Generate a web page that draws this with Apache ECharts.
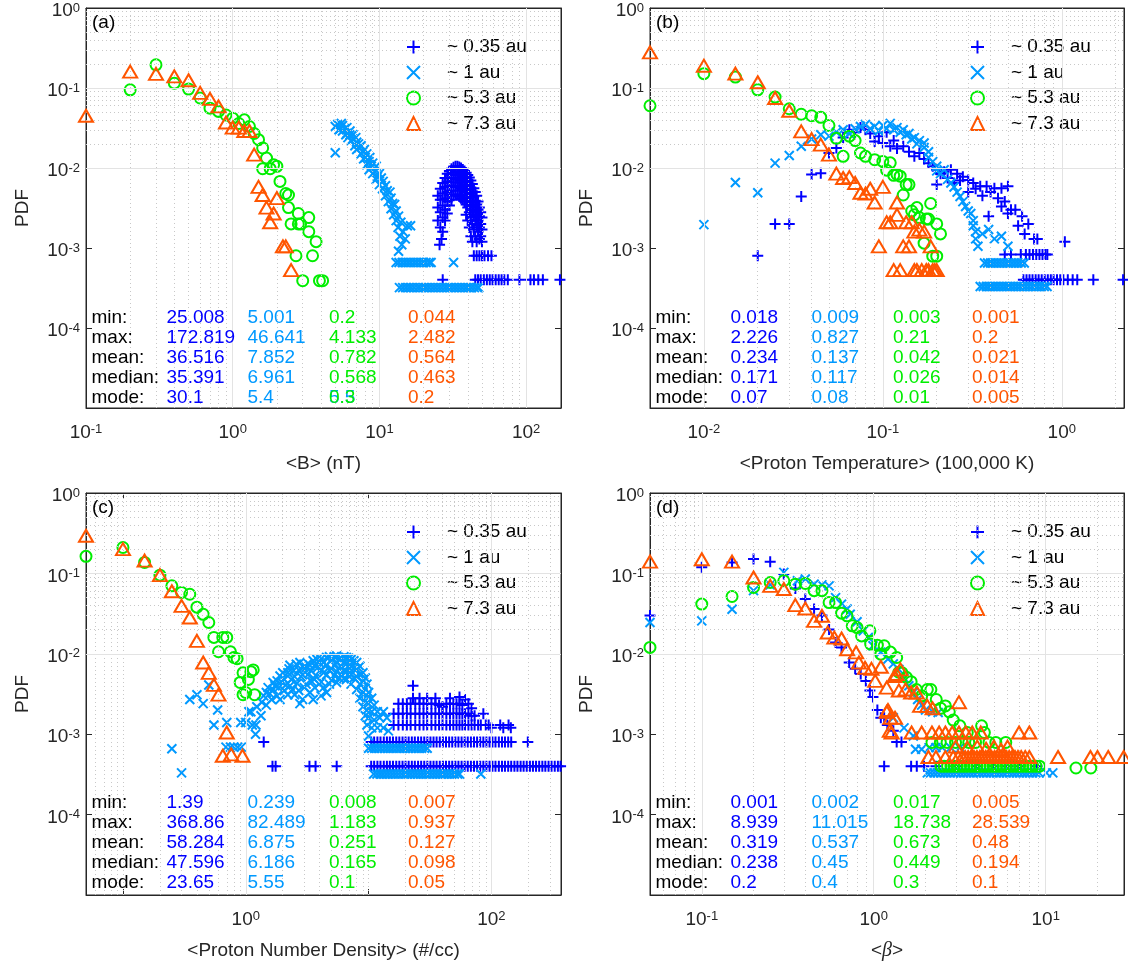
<!DOCTYPE html>
<html><head><meta charset="utf-8">
<script src="https://cdn.jsdelivr.net/npm/echarts@6/dist/echarts.min.js"></script>
<style>html,body{margin:0;padding:0;background:#fff}#c{width:1128px;height:968px}</style>
</head><body><div id="c"></div>
<script>
// ---------------- DATA ----------------
const seriesNames = ['~ 0.35 au', '~ 1 au', '~ 5.3 au', '~ 7.3 au'];
const statLabels = ['min:', 'max:', 'mean:', 'median:', 'mode:'];

// panel (a) <B> (nT)
const a_b035 = [[25,0.0045],[25,0.0032],[25,0.0022],[25.7,0.0011],[26,0.0055],[26,0.004],[26,0.0028],[26,0.0018],[26.5,0.0013],[27,0.0065],[27,0.0048],[27,0.0034],[27,0.0024],[27,0.0016],[28,0.0075],[28,0.0058],[28,0.0042],[28,0.003],[28,0.0022],[29,0.0085],[29,0.0068],[29,0.005],[29,0.0038],[29,0.0027],[30,0.0092],[30,0.0075],[30,0.006],[30,0.0046],[30,0.0034],[31,0.0098],[31,0.0082],[31,0.0066],[31,0.0052],[31,0.004],[32,0.0102],[32,0.0088],[32,0.0072],[32,0.0058],[32,0.0045],[33,0.0105],[33,0.009],[33,0.0075],[33,0.006],[33,0.0047],[34,0.0105],[34,0.009],[34,0.0074],[34,0.006],[34,0.0046],[35,0.0103],[35,0.0087],[35,0.0072],[35,0.0058],[35,0.0044],[36,0.01],[36,0.0085],[36,0.007],[36,0.0056],[36,0.0042],[37,0.0096],[37,0.008],[37,0.0066],[37,0.0053],[37,0.004],[38,0.0092],[38,0.0076],[38,0.0062],[38,0.005],[38,0.0038],[39,0.0087],[39,0.0072],[39,0.0058],[39,0.0046],[39,0.0035],[39,0.0026],[40,0.0082],[40,0.0067],[40,0.0054],[40,0.0042],[40,0.0032],[40,0.0022],[41,0.0076],[41,0.006],[41,0.0048],[41,0.0037],[41,0.0028],[41,0.0018],[42,0.007],[42,0.0055],[42,0.0043],[42,0.0033],[42,0.0024],[42,0.0014],[43,0.0063],[43,0.005],[43,0.0038],[43,0.0029],[43,0.002],[43,0.0012],[44,0.0056],[44,0.0044],[44,0.0034],[44,0.0025],[44,0.0017],[45,0.005],[45,0.0039],[45,0.003],[45,0.0022],[45,0.0014],[46,0.0045],[46,0.0035],[46,0.0026],[46,0.0019],[46,0.0012],[47,0.0038],[47,0.003],[47,0.0022],[47,0.0016],[48,0.0032],[48,0.0025],[48,0.0018],[48,0.0013],[49,0.0028],[49,0.002],[49,0.0014],[50,0.0024],[50,0.0017],[50,0.0012],
  [44,0.0008],[46,0.0008],[48,0.0008],[50,0.0008],[52,0.0008],[55,0.0008],[58,0.0008],
  [27,0.0004],[45,0.0004],[47,0.0004],[49,0.0004],[51.5,0.0004],[54,0.0004],[56.5,0.0004],[59,0.0004],[62,0.0004],[65,0.0004],[68,0.0004],[71,0.0004],[75,0.0004],[90,0.0004],[107,0.0004],[113,0.0004],[121,0.0004],[130,0.0004],[170,0.0004]];
const a_b1 = [[5.0,0.0155],[5.0,0.033],[5.2,0.035],[5.3,0.03],[5.4,0.031],[5.5,0.036],[5.6,0.034],[5.6,0.029],[5.8,0.031],[5.9,0.026],[6.0,0.027],[6.0,0.032],[6.1,0.024],[6.3,0.026],[6.3,0.029],[6.4,0.022],[6.6,0.023],[6.6,0.026],[6.8,0.019],[6.9,0.024],[7.0,0.021],[7.0,0.017],[7.2,0.02],[7.3,0.018],[7.5,0.015],[7.5,0.019],[7.7,0.016],[7.8,0.013],[7.9,0.017],[8.0,0.0135],[8.2,0.011],[8.2,0.015],[8.5,0.012],[8.5,0.0095],[8.6,0.0135],[8.8,0.0105],[9.0,0.0085],[9.0,0.0115],[9.3,0.009],[9.5,0.0072],[9.5,0.0105],[9.7,0.0078],[10.0,0.0062],[10.0,0.0085],[10.3,0.0075],[10.5,0.0055],[10.6,0.0068],[11.0,0.0045],[11.0,0.006],[11.3,0.0052],[11.5,0.0038],[11.8,0.005],[12.0,0.0031],[12.0,0.0042],[12.3,0.0036],[12.5,0.0026],[12.7,0.0035],[13.0,0.0022],[13.0,0.0029],[13.4,0.0018],[13.5,0.0025],[13.8,0.0014],[14.0,0.0021],[14.2,0.0011],[14.5,0.0016],[15.0,0.0013],[15.5,0.0019],[16.3,0.0019],[13.5,0.00091],
  [13.0,0.00066],[13.6,0.00066],[14.3,0.00066],[15.0,0.00066],[15.7,0.00066],[16.4,0.00066],[17.2,0.00066],[18.0,0.00066],[18.9,0.00066],[19.8,0.00066],[20.8,0.00066],[21.8,0.00066],[22.5,0.00066],[32.0,0.00066],
  [13.7,0.00032],[14.4,0.00032],[15.1,0.00032],[15.8,0.00032],[16.5,0.00032],[17.3,0.00032],[18.2,0.00032],[19,0.00032],[20,0.00032],[20.9,0.00032],[21.9,0.00032],[23,0.00032],[24.1,0.00032],[25.3,0.00032],[26.5,0.00032],[27.8,0.00032],[29.1,0.00032],[30.5,0.00032],[32,0.00032],[33.5,0.00032],[35.1,0.00032],[36.8,0.00032],[38.6,0.00032],[40.4,0.00032],[42.4,0.00032],[44.4,0.00032],[46.5,0.00032],[47.5,0.00032]];
const a_g53 = [[0.2,0.095],[0.3,0.195],[0.4,0.115],[0.5,0.097],[0.6,0.075],[0.7,0.056],[0.8,0.051],[0.9,0.046],[1.0,0.042],[1.1,0.036],[1.2,0.04],[1.3,0.033],[1.4,0.027],[1.5,0.0226],[1.6,0.0178],[1.7,0.0133],[1.6,0.0098],[1.8,0.0098],[1.9,0.011],[2.0,0.0105],[2.1,0.0068],[2.3,0.0048],[2.4,0.0046],[2.4,0.0032],[2.5,0.002],[2.7,0.0008],[2.8,0.0027],[2.8,0.002],[2.9,0.002],[3.0,0.00039],[3.3,0.0024],[3.3,0.0016],[3.5,0.0008],[3.7,0.0012],[3.9,0.00039],[4.1,0.00039]];
const a_o73 = [[0.1,0.045],[0.2,0.16],[0.3,0.15],[0.4,0.14],[0.5,0.125],[0.6,0.087],[0.7,0.073],[0.8,0.059],[0.9,0.037],[1.0,0.032],[1.1,0.032],[1.2,0.029],[1.3,0.029],[1.4,0.0147],[1.5,0.0058],[1.6,0.0046],[1.7,0.0032],[1.8,0.0021],[1.9,0.0027],[2.0,0.0042],[2.2,0.00105],[2.3,0.00105],[2.5,0.00053]];
const a_stats = [['25.008','172.819','36.516','35.391','30.1'],['5.001','46.641','7.852','6.961','5.4'],['0.2','4.133','0.782','0.568','0.3'],['0.044','2.482','0.564','0.463','0.2']];

// panel (b) <Proton Temperature> (100,000 K)
const b_b035 = [[0.02,0.0008],[0.025,0.002],[0.03,0.002],[0.035,0.0044],[0.04,0.0083],[0.045,0.0086],[0.05,0.0154],[0.055,0.0178],[0.06,0.024],[0.065,0.03],[0.07,0.028],[0.075,0.032],[0.08,0.03],[0.085,0.027],[0.09,0.0215],[0.095,0.025],[0.1,0.0205],[0.105,0.028],[0.11,0.0187],[0.115,0.022],[0.12,0.0175],[0.13,0.0187],[0.14,0.016],[0.15,0.014],[0.16,0.0154],[0.17,0.013],[0.18,0.0115],[0.19,0.0105],[0.2,0.0095],[0.2,0.0062],[0.21,0.0085],[0.22,0.009],[0.23,0.0075],[0.24,0.0095],[0.25,0.0065],[0.26,0.0085],[0.27,0.007],[0.28,0.0078],[0.3,0.0071],[0.3,0.005],[0.32,0.0065],[0.33,0.0055],[0.35,0.0059],[0.36,0.0045],[0.38,0.0059],[0.39,0.0025],[0.4,0.005],[0.42,0.0056],[0.44,0.0042],[0.46,0.0033],[0.46,0.0056],[0.48,0.0038],[0.5,0.0059],[0.5,0.0027],[0.52,0.003],[0.55,0.003],[0.57,0.0019],[0.6,0.0025],[0.62,0.0015],[0.65,0.002],[0.7,0.0013],[0.73,0.0013],[1.04,0.0012],
  [0.48,0.00083],[0.52,0.00083],[0.59,0.00083],[0.63,0.00083],[0.66,0.00083],[0.69,0.00083],[0.72,0.00083],[0.75,0.00083],[0.78,0.00083],[0.81,0.00083],[0.83,0.00083],
  [0.61,0.0004],[0.635,0.0004],[0.66,0.0004],[0.686,0.0004],[0.714,0.0004],[0.742,0.0004],[0.772,0.0004],[0.803,0.0004],[0.835,0.0004],[0.868,0.0004],[0.9,0.0004],[0.94,0.0004],[0.98,0.0004],[1.02,0.0004],[1.08,0.0004],[1.15,0.0004],[1.22,0.0004],[1.5,0.0004],[2.2,0.0004]];
const b_b1 = [[0.01,0.00196],[0.015,0.0066],[0.02,0.0049],[0.025,0.0115],[0.03,0.0143],[0.035,0.0187],[0.04,0.023],[0.045,0.026],[0.05,0.025],[0.055,0.028],[0.06,0.03],[0.065,0.027],[0.07,0.031],[0.075,0.033],[0.08,0.035],[0.085,0.031],[0.09,0.033],[0.095,0.029],[0.1,0.034],[0.105,0.031],[0.11,0.036],[0.115,0.03],[0.12,0.032],[0.125,0.028],[0.13,0.03],[0.135,0.026],[0.14,0.027],[0.145,0.023],[0.15,0.024],[0.155,0.02],[0.16,0.022],[0.17,0.018],[0.17,0.0205],[0.18,0.016],[0.18,0.0135],[0.19,0.012],[0.2,0.0105],[0.2,0.0092],[0.21,0.0085],[0.22,0.0095],[0.23,0.0072],[0.24,0.0065],[0.25,0.0058],[0.26,0.005],[0.27,0.0044],[0.28,0.0038],[0.29,0.0033],[0.3,0.0029],[0.31,0.0027],[0.32,0.0022],[0.32,0.0019],[0.33,0.0016],[0.33,0.0013],[0.34,0.00105],[0.36,0.0015],[0.39,0.0017],[0.42,0.0013],[0.46,0.0014],[0.5,0.00105],
  [0.37,0.00065],[0.385,0.00065],[0.4,0.00065],[0.416,0.00065],[0.433,0.00065],[0.45,0.00065],[0.468,0.00065],[0.487,0.00065],[0.506,0.00065],[0.527,0.00065],[0.548,0.00065],[0.57,0.00065],[0.593,0.00065],[0.617,0.00065],
  [0.35,0.00033],[0.364,0.00033],[0.379,0.00033],[0.394,0.00033],[0.41,0.00033],[0.426,0.00033],[0.443,0.00033],[0.461,0.00033],[0.479,0.00033],[0.498,0.00033],[0.518,0.00033],[0.539,0.00033],[0.561,0.00033],[0.583,0.00033],[0.607,0.00033],[0.631,0.00033],[0.656,0.00033],[0.682,0.00033],[0.71,0.00033],[0.738,0.00033],[0.768,0.00033],[0.798,0.00033],[0.827,0.00033]];
const b_g53 = [[0.005,0.06],[0.01,0.151],[0.015,0.137],[0.02,0.095],[0.025,0.077],[0.03,0.055],[0.035,0.047],[0.04,0.045],[0.045,0.043],[0.05,0.034],[0.055,0.0235],[0.06,0.014],[0.065,0.025],[0.07,0.022],[0.075,0.0154],[0.08,0.014],[0.09,0.0127],[0.1,0.0121],[0.105,0.0094],[0.11,0.0116],[0.115,0.0081],[0.12,0.0083],[0.125,0.0079],[0.13,0.0046],[0.135,0.0062],[0.14,0.0062],[0.145,0.0029],[0.15,0.0026],[0.155,0.0032],[0.16,0.0024],[0.17,0.00115],[0.175,0.0023],[0.18,0.0023],[0.185,0.0036],[0.19,0.00079],[0.2,0.00079],[0.2,0.002],[0.21,0.0015]];
const b_o73 = [[0.005,0.279],[0.01,0.19],[0.015,0.151],[0.02,0.118],[0.025,0.075],[0.03,0.052],[0.035,0.0287],[0.04,0.023],[0.045,0.0196],[0.05,0.0147],[0.055,0.0085],[0.06,0.0075],[0.065,0.0077],[0.07,0.0065],[0.075,0.0049],[0.08,0.0048],[0.085,0.0055],[0.09,0.0037],[0.095,0.00105],[0.1,0.0058],[0.105,0.0021],[0.11,0.0021],[0.115,0.00053],[0.12,0.0037],[0.12,0.0026],[0.125,0.00053],[0.13,0.00105],[0.135,0.0021],[0.14,0.00105],[0.145,0.0021],[0.15,0.0016],[0.15,0.00053],[0.155,0.00053],[0.16,0.0017],[0.165,0.00053],[0.17,0.0016],[0.175,0.00053],[0.18,0.00053],[0.185,0.00105],[0.19,0.00053],[0.195,0.00053],[0.2,0.00053]];
const b_stats = [['0.018','2.226','0.234','0.171','0.07'],['0.009','0.827','0.137','0.117','0.08'],['0.003','0.21','0.042','0.026','0.01'],['0.001','0.2','0.021','0.014','0.005']];

// panel (c) <Proton Number Density> (#/cc)
const c_b035 = [[1.4,0.0008],[1.65,0.0004],[1.75,0.0004],[3.3,0.0004],[3.7,0.0004],[5.5,0.0004],
  [10.5,0.0004],[11.1,0.0004],[11.8,0.0004],[12.5,0.0004],[13.3,0.0004],[14.1,0.0004],[14.9,0.0004],[15.8,0.0004],[16.8,0.0004],[17.8,0.0004],[18.9,0.0004],[20,0.0004],[21.2,0.0004],[22.5,0.0004],[23.8,0.0004],[25.3,0.0004],[26.8,0.0004],[28.4,0.0004],[30.1,0.0004],[31.9,0.0004],[33.8,0.0004],[35.8,0.0004],[38,0.0004],[40.3,0.0004],[42.7,0.0004],[45.3,0.0004],[48,0.0004],[50.9,0.0004],[53.9,0.0004],[57.2,0.0004],[60.6,0.0004],[64.2,0.0004],[68.1,0.0004],[72.2,0.0004],[76.5,0.0004],[81.1,0.0004],[86,0.0004],[91.1,0.0004],[96.6,0.0004],[102,0.0004],[108,0.0004],[115,0.0004],[122,0.0004],[129,0.0004],[137,0.0004],[145,0.0004],[154,0.0004],[163,0.0004],[173,0.0004],[183,0.0004],[194,0.0004],[206,0.0004],[218,0.0004],[231,0.0004],[245,0.0004],[260,0.0004],[275,0.0004],[292,0.0004],[309,0.0004],[328,0.0004],[348,0.0004],[366,0.0004],
  [10.5,0.0008],[11.1,0.0008],[11.8,0.0008],[12.5,0.0008],[13.3,0.0008],[14.1,0.0008],[14.9,0.0008],[15.8,0.0008],[16.8,0.0008],[17.8,0.0008],[18.9,0.0008],[20,0.0008],[21.2,0.0008],[22.5,0.0008],[23.8,0.0008],[25.3,0.0008],[26.8,0.0008],[28.4,0.0008],[30.1,0.0008],[31.9,0.0008],[33.8,0.0008],[35.8,0.0008],[38,0.0008],[40.3,0.0008],[42.7,0.0008],[45.3,0.0008],[48,0.0008],[50.9,0.0008],[53.9,0.0008],[57.2,0.0008],[60.6,0.0008],[64.2,0.0008],[68.1,0.0008],[72.2,0.0008],[76.5,0.0008],[81.1,0.0008],[86,0.0008],[91.1,0.0008],[96.6,0.0008],[102,0.0008],[108,0.0008],[115,0.0008],[122,0.0008],[129,0.0008],[137,0.0008],[145,0.0008],[198,0.0008],
  [16,0.0013],[16,0.0018],[17.5,0.0013],[17.5,0.0018],[17.5,0.0024],[19,0.0013],[19,0.0018],[19,0.0024],[20.5,0.0013],[20.5,0.0018],[20.5,0.0024],[22,0.0013],[22,0.0018],[22,0.0024],[23,0.004],[23,0.0028],[24,0.0013],[24,0.0018],[24,0.0024],[26,0.0013],[26,0.0018],[26,0.0024],[26,0.0028],[28,0.0013],[28,0.0018],[28,0.0024],[30,0.0013],[30,0.0018],[30,0.0024],[30,0.0028],[32.5,0.0013],[32.5,0.0018],[32.5,0.0024],[35,0.0013],[35,0.0018],[35,0.0024],[35,0.0028],[37.5,0.0013],[37.5,0.0018],[37.5,0.0023],[40,0.0013],[40,0.0018],[40,0.0022],[43,0.0013],[43,0.0018],[43,0.0024],[46,0.0013],[46,0.0018],[46,0.0024],[46,0.0028],[49,0.0013],[49,0.0018],[49,0.0024],[52,0.0013],[52,0.0018],[52,0.0024],[55,0.0013],[55,0.0018],[55,0.0024],[55,0.0029],[58,0.0013],[58,0.0018],[58,0.0023],[61,0.0013],[61,0.0018],[61,0.0027],[65,0.0013],[65,0.0018],[65,0.0024],[69,0.0013],[69,0.0017],[69,0.0021],[73,0.0013],[73,0.0017],[78,0.0013],[82,0.0013],[86,0.0018],[90,0.0013],[95,0.0013],[100,0.0012],[118,0.0013],[125,0.0012],[138,0.0013],[144,0.0012]];
const c_b1 = [[0.25,0.00066],[0.3,0.00033],[0.35,0.0027],[0.4,0.0031],[0.45,0.0024],[0.5,0.0041],[0.55,0.0013],[0.59,0.002],[0.7,0.0014],[0.69,0.00069],[0.75,0.00069],[0.8,0.00069],[0.86,0.00069],[0.92,0.00069],[0.91,0.0014],[1.0,0.0014],[1.06,0.0019],[1.13,0.0013],[1.2,0.001],[1.21,0.0013],[1.33,0.0017],
  [1.1,0.0019],[1.23,0.0022],[1.35,0.0025],[1.4,0.003],[1.47,0.0033],[1.47,0.0023],[1.52,0.0038],[1.57,0.0032],[1.62,0.0027],[1.67,0.0044],[1.67,0.0036],[1.73,0.004],[1.8,0.0046],[1.8,0.003],[1.85,0.0038],[1.9,0.0053],[1.9,0.0027],[1.95,0.0045],[2.0,0.0058],[2.06,0.0048],[2.06,0.0035],[2.12,0.0041],[2.2,0.0058],[2.2,0.0031],[2.25,0.0065],[2.29,0.0072],[2.29,0.004],[2.35,0.0048],[2.4,0.0036],[2.45,0.0062],[2.5,0.0052],[2.5,0.0031],[2.58,0.0074],[2.62,0.0043],[2.7,0.0063],[2.7,0.0035],[2.76,0.0078],[2.76,0.0024],[2.82,0.0052],[2.9,0.0055],[2.9,0.0027],[2.95,0.0068],[3.0,0.0038],[3.1,0.0068],[3.1,0.0042],[3.2,0.0076],[3.2,0.0055],[3.33,0.0072],[3.33,0.0033],[3.4,0.0062],[3.45,0.0045],[3.54,0.0082],[3.54,0.0027],[3.54,0.005],[3.65,0.0072],[3.65,0.0038],[3.8,0.0066],[3.8,0.0085],[3.8,0.0052],[3.95,0.0078],[3.95,0.0042],[4.1,0.0086],[4.1,0.0045],[4.1,0.003],[4.1,0.0064],[4.3,0.0078],[4.3,0.0058],[4.3,0.0038],[4.55,0.009],[4.55,0.0072],[4.55,0.0055],[4.55,0.0033],[4.8,0.0092],[4.8,0.0063],[4.8,0.0042],[5.0,0.0085],[5.0,0.0065],[5.0,0.0047],[5.25,0.0092],[5.25,0.0072],[5.25,0.0054],[5.5,0.0094],[5.5,0.0078],[5.5,0.006],[5.5,0.0044],[5.75,0.0085],[5.75,0.0066],[5.75,0.005],[6.0,0.0088],[6.0,0.007],[6.0,0.0055],[6.3,0.0092],[6.3,0.0078],[6.3,0.0062],[6.3,0.0049],[6.6,0.009],[6.6,0.0075],[6.6,0.006],[6.6,0.0048],[6.9,0.0088],[6.9,0.0068],[6.9,0.0053],[7.2,0.0085],[7.2,0.007],[7.2,0.0056],[7.2,0.0042],[7.6,0.0082],[7.6,0.0066],[7.6,0.005],[8.0,0.0078],[8.0,0.0064],[8.0,0.0052],[8.0,0.0036],[8.5,0.007],[8.5,0.0055],[8.5,0.0042],[8.5,0.0028],[9.0,0.0058],[9.0,0.0045],[9.0,0.0033],[9.0,0.0022],[9.4,0.005],[9.4,0.0037],[9.4,0.0026],[9.4,0.0017],[9.7,0.0042],[9.7,0.003],[9.7,0.002],[9.7,0.0013],[10.0,0.0033],[10.0,0.0024],[10.0,0.0016],[10.0,0.00095],[10.6,0.0028],[10.6,0.0019],[10.6,0.0012],[11.1,0.0023],[11.1,0.0015],[11.8,0.0019],[11.8,0.0012],[12.3,0.0016],[13.2,0.0019],[13.2,0.0012],[14.1,0.0016],[14.5,0.0011],
  [10,0.00067],[10.6,0.00067],[11.2,0.00067],[11.9,0.00067],[12.6,0.00067],[13.4,0.00067],[14.2,0.00067],[15,0.00067],[15.9,0.00067],[16.9,0.00067],[17.9,0.00067],[19,0.00067],[20.1,0.00067],[21.3,0.00067],[22.6,0.00067],[24,0.00067],[25.4,0.00067],[27,0.00067],[28.6,0.00067],[30,0.00067],
  [11,0.00032],[11.7,0.00032],[12.4,0.00032],[13.1,0.00032],[13.9,0.00032],[14.7,0.00032],[15.6,0.00032],[16.5,0.00032],[17.5,0.00032],[18.6,0.00032],[19.7,0.00032],[20.9,0.00032],[22.1,0.00032],[23.5,0.00032],[24.9,0.00032],[26.4,0.00032],[27.9,0.00032],[29.6,0.00032],[31.4,0.00032],[33.3,0.00032],[35.3,0.00032],[37.4,0.00032],[39.6,0.00032],[42,0.00032],[44.5,0.00032],[47.2,0.00032],[50,0.00032],[53,0.00032],[55,0.00032],[82,0.00032]];
const c_g53 = [[0.05,0.163],[0.1,0.21],[0.15,0.137],[0.2,0.095],[0.25,0.07],[0.3,0.058],[0.35,0.055],[0.4,0.038],[0.45,0.031],[0.5,0.0245],[0.55,0.016],[0.6,0.0106],[0.65,0.016],[0.7,0.016],[0.75,0.0106],[0.8,0.009],[0.85,0.0087],[0.9,0.0044],[0.95,0.0058],[0.95,0.0031],[1.0,0.0033],[1.05,0.0048],[1.1,0.006],[1.15,0.0063],[1.18,0.0031]];
const c_o73 = [[0.05,0.294],[0.1,0.2],[0.15,0.144],[0.2,0.095],[0.25,0.06],[0.3,0.0395],[0.35,0.0283],[0.4,0.0145],[0.45,0.0078],[0.5,0.0058],[0.55,0.0041],[0.6,0.0031],[0.65,0.00054],[0.7,0.00105],[0.76,0.00056],[0.94,0.00054]];
const c_stats = [['1.39','368.86','58.284','47.596','23.65'],['0.239','82.489','6.875','6.186','5.55'],['0.008','1.183','0.251','0.165','0.1'],['0.007','0.937','0.127','0.098','0.05']];

// panel (d) <beta>
const d_b035 = [[0.05,0.03],[0.1,0.119],[0.15,0.137],[0.2,0.151],[0.25,0.14],[0.3,0.098],[0.35,0.065],[0.4,0.048],[0.45,0.036],[0.5,0.03],[0.55,0.02],[0.6,0.0138],[0.65,0.012],[0.72,0.0078],[0.78,0.0065],[0.84,0.0056],[0.9,0.0046],[0.95,0.0035],[0.99,0.0029],[1.05,0.002],[1.1,0.0016],[1.15,0.0016],[1.2,0.0013],[1.3,0.0011],[1.36,0.0008],[1.45,0.0008],[1.15,0.0004],[1.65,0.0004],[1.78,0.0004],[1.96,0.0004],[2.3,0.0004],[3,0.0004],[4,0.0004],[5,0.0004],[6,0.0004],[7,0.0004],[8.9,0.0004]];
const d_b1 = [[0.05,0.0245],[0.1,0.0257],[0.15,0.0359],[0.2,0.061],[0.25,0.072],[0.3,0.103],[0.36,0.081],[0.4,0.085],[0.45,0.0736],[0.5,0.072],[0.55,0.07],[0.6,0.05],[0.65,0.0415],[0.7,0.036],[0.73,0.031],[0.8,0.025],[0.87,0.0193],[0.93,0.016],[0.99,0.0126],[1.1,0.0105],[1.21,0.0086],[1.3,0.0075],[1.4,0.0064],[1.5,0.005],[1.6,0.004],[1.7,0.0033],[1.8,0.0027],[1.9,0.0023],[2.0,0.002],[2.2,0.0019],[2.37,0.00186],[1.3,0.0016],[1.5,0.0012],[1.7,0.00095],[1.75,0.00065],[1.9,0.00065],[2.1,0.00068],[2.3,0.00068],[2.5,0.00068],[2.8,0.00068],[3.17,0.00068],
  [2.05,0.00033],[2.14,0.00033],[2.24,0.00033],[2.34,0.00033],[2.45,0.00033],[2.56,0.00033],[2.67,0.00033],[2.79,0.00033],[2.92,0.00033],[3.05,0.00033],[3.19,0.00033],[3.33,0.00033],[3.48,0.00033],[3.64,0.00033],[3.8,0.00033],[3.97,0.00033],[4.15,0.00033],[4.34,0.00033],[4.53,0.00033],[4.74,0.00033],[4.95,0.00033],[5.17,0.00033],[5.4,0.00033],[5.65,0.00033],[5.9,0.00033],[6.17,0.00033],[6.45,0.00033],[6.74,0.00033],[7.04,0.00033],[7.36,0.00033],[7.69,0.00033],[8.03,0.00033],[8.4,0.00033],[8.77,0.00033],[9.17,0.00033],[10.1,0.00033],[11.0,0.00033]];
const d_g53 = [[0.05,0.012],[0.1,0.0415],[0.15,0.0516],[0.2,0.067],[0.25,0.077],[0.3,0.081],[0.35,0.0735],[0.4,0.075],[0.45,0.061],[0.5,0.061],[0.55,0.0434],[0.6,0.0434],[0.65,0.032],[0.7,0.0297],[0.75,0.0223],[0.8,0.0212],[0.85,0.0167],[0.95,0.0193],[0.96,0.0132],[1.05,0.0128],[1.1,0.0099],[1.15,0.0126],[1.25,0.0105],[1.36,0.009],[1.4,0.0059],[1.46,0.0058],[1.55,0.0051],[1.65,0.0045],[1.77,0.0036],[1.9,0.003],[2.05,0.0036],[2.15,0.0036],[2.31,0.0027],[2.45,0.0021],[2.61,0.00225],[2.75,0.0019],[2.9,0.0015],[3.17,0.00127],[3.5,0.00105],[4.24,0.00127],[4.4,0.00105],
  [2.18,0.00079],[2.44,0.00079],[2.67,0.00079],[2.99,0.00079],[3.27,0.00079],[3.57,0.00079],[3.91,0.00079],[4.68,0.00079],[5.13,0.00079],[5.86,0.00079],
  [2.46,0.0004],[2.57,0.0004],[2.69,0.0004],[2.81,0.0004],[2.93,0.0004],[3.06,0.0004],[3.2,0.0004],[3.34,0.0004],[3.49,0.0004],[3.65,0.0004],[3.81,0.0004],[3.98,0.0004],[4.16,0.0004],[4.35,0.0004],[4.54,0.0004],[4.75,0.0004],[4.96,0.0004],[5.18,0.0004],[5.41,0.0004],[5.66,0.0004],[5.91,0.0004],[6.18,0.0004],[6.45,0.0004],[6.74,0.0004],[7.05,0.0004],[7.36,0.0004],[7.69,0.0004],[8.04,0.0004],[8.4,0.0004],[8.78,0.0004],[9.2,0.0004],[15,0.00038],[18.3,0.00038]];
const d_o73 = [[0.05,0.14],[0.1,0.15],[0.15,0.14],[0.2,0.089],[0.25,0.07],[0.3,0.064],[0.35,0.0403],[0.4,0.0366],[0.45,0.0257],[0.5,0.0297],[0.54,0.0184],[0.59,0.0159],[0.65,0.0155],[0.7,0.0114],[0.79,0.0104],[0.82,0.0078],[0.89,0.0067],[0.97,0.0065],[1.02,0.0046],[1.1,0.0069],[1.19,0.0038],[1.21,0.002],[1.25,0.0016],[1.24,0.0011],[1.32,0.0053],[1.36,0.0056],[1.4,0.0035],[1.43,0.0064],[1.53,0.0036],[1.65,0.0033],[1.78,0.0033],[1.86,0.00225],[2.05,0.00225],[2.2,0.0021],[3.13,0.0025],[1.19,0.0019],[1.33,0.0016],
  [1.27,0.00105],[1.66,0.00105],[1.9,0.00105],[2.18,0.00105],[2.4,0.00105],[2.61,0.00105],[2.86,0.00105],[3.13,0.00105],[3.43,0.00105],[3.74,0.00105],[4.19,0.00105],[7.0,0.00105],[8.03,0.00105],
  [3.0,0.0007],[3.5,0.00068],[4.0,0.0007],[4.5,0.00066],[5.0,0.0007],[5.5,0.00064],[6.0,0.0007],
  [2.08,0.00052],[2.3,0.00052],[2.61,0.00052],[2.9,0.00052],[3.1,0.00052],[3.27,0.00052],[3.4,0.00052],[3.54,0.00052],[3.68,0.00052],[3.83,0.00052],[3.98,0.00052],[4.14,0.00052],[4.3,0.00052],[4.48,0.00052],[4.66,0.00052],[4.84,0.00052],[5.04,0.00052],[5.24,0.00052],[5.45,0.00052],[5.67,0.00052],[5.89,0.00052],[6.13,0.00052],[6.37,0.00052],[6.63,0.00052],[6.9,0.00052],[7.2,0.00052],[7.6,0.00052],[8.03,0.00052],[11.8,0.00052],[18.2,0.00052],[20,0.00052],[23.1,0.00052],[28.4,0.00052]];
const d_stats = [['0.001','8.939','0.319','0.238','0.2'],['0.002','11.015','0.537','0.45','0.4'],['0.017','18.738','0.673','0.449','0.3'],['0.005','28.539','0.48','0.194','0.1']];

// axis limits and labelled decades
const xLimits = [[0.1, 172.819], [0.005, 2.226], [0.05, 368.86], [0.05, 28.539]];
const xLabelExp = [[-1, 0, 1, 2], [-2, -1, 0], [0, 2], [-1, 0, 1]];
const yLimits = [1e-5, 1];
const yLabelExp = [0, -1, -2, -3, -4];
const yMajorExp = [0, -1, -2, -3, -4, -5];
const xNames = ['<B> (nT)', '<Proton Temperature> (100,000 K)', '<Proton Number Density> (#/cc)', '<{i|β}>'];
const tags = ['(a)', '(b)', '(c)', '(d)'];

// ---------------- STYLE / LAYOUT ----------------
const FONT = '"Liberation Sans", Arial, Helvetica, sans-serif';
const colors = ['#0000ff', '#0099ff', '#00ee00', '#ff5500'];
const grids = [
  {left: 86, top: 8, width: 475, height: 400},
  {left: 650, top: 8, width: 474, height: 400},
  {left: 86, top: 493, width: 475, height: 402},
  {left: 650, top: 493, width: 474, height: 402}
];
const panelData = [[a_b035, a_b1, a_g53, a_o73], [b_b035, b_b1, b_g53, b_o73], [c_b035, c_b1, c_g53, c_o73], [d_b035, d_b1, d_g53, d_o73]];
const panelStats = [a_stats, b_stats, c_stats, d_stats];
const symbols = [
  {symbol: 'path://M0,5L10,5M5,0L5,10', size: 11},
  {symbol: 'path://M0,0L10,10M10,0L0,10', size: 9},
  {symbol: 'circle', size: 11},
  {symbol: 'triangle', size: [14, 12]}
];
const AX = '#262626';
const rich = {
  b: {fontSize: 19, fontFamily: FONT, color: AX, lineHeight: 19, verticalAlign: 'bottom'},
  e: {fontSize: 13, fontFamily: FONT, color: AX, lineHeight: 13, verticalAlign: 'top', padding: [0, 0, 10, 0]}
};
function expLabel(allowed) {
  return function (v) {
    const l = Math.log10(v), e = Math.round(l);
    if (Math.abs(l - e) > 1e-6 || allowed.indexOf(e) < 0) return '';
    return '{b|10}{e|' + (e < 0 ? '-' + (-e) : '' + e) + '}';
  };
}
function gridValues(min, max, majors) {
  const maj = [], mnr = [];
  for (let e = Math.floor(Math.log10(min)) - 1; e <= Math.ceil(Math.log10(max)); e++) {
    for (let m = 1; m <= 9; m++) {
      const v = m * Math.pow(10, e);
      if (v <= min * 1.0001 || v >= max * 0.9999) continue;
      if (m === 1 && majors.indexOf(e) >= 0) maj.push(v); else mnr.push(v);
    }
  }
  return {maj, mnr};
}
const tickStyle = {show: true, inside: true, length: 6, lineStyle: {color: AX}};

const xAxis = [], yAxis = [], series = [], legend = [], graphic = [];
grids.forEach((g, i) => {
  xAxis.push({
    type: 'log', logBase: 10, gridIndex: i, min: xLimits[i][0], max: xLimits[i][1],
    axisLine: {show: true, onZero: false, lineStyle: {color: AX, width: 1}},
    axisTick: tickStyle,
    minorTick: {show: false}, splitLine: {show: false}, minorSplitLine: {show: false},
    axisLabel: {formatter: expLabel(xLabelExp[i]), margin: 15, interval: 0, hideOverlap: false, showMinLabel: true, showMaxLabel: true, rich: rich},
    name: xNames[i], nameLocation: 'middle', nameGap: 46,
    nameTextStyle: {fontSize: 19, fontFamily: FONT, color: AX, rich: {i: {fontSize: 20, fontStyle: 'italic', fontFamily: '"Liberation Serif", serif', color: AX}}}
  });
  yAxis.push({
    type: 'log', logBase: 10, gridIndex: i, min: yLimits[0], max: yLimits[1],
    axisLine: {show: true, onZero: false, lineStyle: {color: AX, width: 1}},
    axisTick: tickStyle,
    minorTick: {show: false}, splitLine: {show: false}, minorSplitLine: {show: false},
    axisLabel: {formatter: expLabel(yLabelExp), margin: 6, interval: 0, hideOverlap: false, showMinLabel: true, showMaxLabel: true, rich: rich, padding: [6, 0, 0, 0]},
    name: 'PDF', nameLocation: 'middle', nameGap: 54,
    nameTextStyle: {fontSize: 19, fontFamily: FONT, color: AX}
  });
  const xv = gridValues(xLimits[i][0], xLimits[i][1], xLabelExp[i]);
  const yv = gridValues(yLimits[0] / 10, yLimits[1] * 10, yMajorExp).mnr.filter(v => v > yLimits[0] && v < yLimits[1]);
  const yMaj = yMajorExp.map(e => Math.pow(10, e)).filter(v => v > yLimits[0] && v < yLimits[1]);
  series.push({
    type: 'line', xAxisIndex: i, yAxisIndex: i, data: [], z: 0, silent: true,
    markLine: {silent: true, symbol: ['none', 'none'], label: {show: false}, animation: false,
      lineStyle: {color: '#c8c8c8', type: [1, 3], width: 1},
      emphasis: {disabled: true},
      data: xv.mnr.map(v => ({xAxis: v})).concat(yv.map(v => ({yAxis: v})))}
  });
  series.push({
    type: 'line', xAxisIndex: i, yAxisIndex: i, data: [], z: 0, silent: true,
    markLine: {silent: true, symbol: ['none', 'none'], label: {show: false}, animation: false,
      lineStyle: {color: '#e3e3e3', type: 'solid', width: 1},
      emphasis: {disabled: true},
      data: xv.maj.map(v => ({xAxis: v})).concat(yMaj.map(v => ({yAxis: v})))}
  });
  panelData[i].forEach((d, s) => {
    series.push({
      type: 'scatter', name: seriesNames[s], xAxisIndex: i, yAxisIndex: i, data: d, z: 2 + s,
      symbol: symbols[s].symbol, symbolSize: symbols[s].size, clip: false,
      itemStyle: {color: 'rgba(0,0,0,0)', borderColor: colors[s], borderWidth: 2, opacity: 1},
      emphasis: {disabled: true}, silent: true
    });
  });
  legend.push({
    data: seriesNames.map((n, s) => ({name: n, itemStyle: {color: 'rgba(0,0,0,0)', borderColor: colors[s], borderWidth: 2}})),
    orient: 'vertical', left: g.left + 315, top: g.top + 24,
    itemWidth: 13, itemHeight: 13, itemGap: 5.5, selectedMode: false,
    textStyle: {fontSize: 19, fontFamily: FONT, color: '#000', lineHeight: 20, padding: [0, 0, 0, 22]}
  });
  graphic.push({type: 'text', x: g.left + 6, y: g.top + 15, z: 100,
    style: {text: tags[i], font: '19px ' + FONT, fill: '#000', verticalAlign: 'middle'}});
  const colX = [80.5, 161.5, 243, 322];
  statLabels.forEach((lab, r) => {
    const y = g.top + 309.5 + 20 * r;
    graphic.push({type: 'text', x: g.left + 5.5, y: y, z: 100,
      style: {text: lab, font: '19px ' + FONT, fill: '#000', verticalAlign: 'middle'}});
    panelStats[i].forEach((col, s) => {
      graphic.push({type: 'text', x: g.left + colX[s], y: y, z: 100,
        style: {text: col[r], font: '19px ' + FONT, fill: colors[s], verticalAlign: 'middle'}});
    });
  });
});
// mirrored axes (top / right) carrying the inside ticks of the box
grids.forEach((g, i) => {
  xAxis.push({type: 'log', logBase: 10, gridIndex: i, position: 'top', min: xLimits[i][0], max: xLimits[i][1],
    axisLine: {show: true, onZero: false, lineStyle: {color: AX}}, axisTick: tickStyle, axisLabel: {show: false}, splitLine: {show: false}});
  yAxis.push({type: 'log', logBase: 10, gridIndex: i, position: 'right', min: yLimits[0], max: yLimits[1],
    axisLine: {show: true, onZero: false, lineStyle: {color: AX}}, axisTick: tickStyle, axisLabel: {show: false}, splitLine: {show: false}});
});
// overlapping light-blue text under green mode value in panel (a)
graphic.push({type: 'text', x: grids[0].left + 243, y: grids[0].top + 309.5 + 80, z: 99,
  style: {text: '5.5', font: '19px ' + FONT, fill: colors[1], verticalAlign: 'middle'}});

const chart = echarts.init(document.getElementById('c'), null, {renderer: 'canvas'});
chart.setOption({
  backgroundColor: '#ffffff', animation: false,
  grid: grids.map(g => Object.assign({show: true, borderColor: AX, borderWidth: 1, backgroundColor: 'rgba(0,0,0,0)', containLabel: false}, g)),
  xAxis, yAxis, series, legend, graphic
});
</script></body></html>
